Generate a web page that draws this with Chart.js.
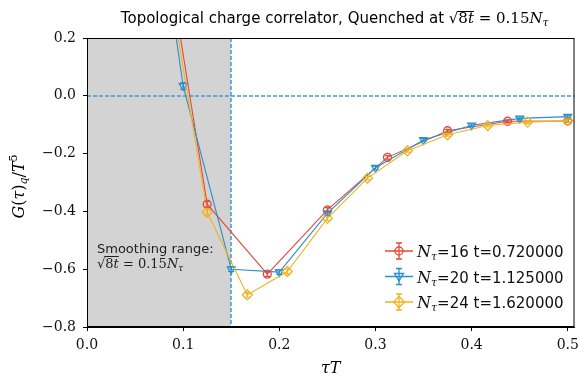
<!DOCTYPE html>
<html>
<head>
<meta charset="utf-8">
<script src="https://cdn.jsdelivr.net/npm/chart.js@4/dist/chart.umd.min.js"></script>
<style>
  html, body { margin: 0; padding: 0; background: #fff; }
  #wrap { width: 585px; height: 378px; }
</style>
</head>
<body>
<div id="wrap"><canvas id="chart" width="585" height="378"></canvas></div>
<script>
// tau*T values and correlator values
const tau16 = [0.0625, 0.125, 0.1875, 0.25, 0.3125, 0.375, 0.4375, 0.5];
const g16 = [0.92, -0.375, -0.617, -0.395, -0.213, -0.121, -0.088, -0.087];
const err16 = [0.02, 0.01, 0.008, 0.008, 0.006, 0.005, 0.005, 0.005];

const tau20 = [0.05, 0.1, 0.15, 0.2, 0.25, 0.3, 0.35, 0.4, 0.45, 0.5];
const g20 = [1.18, 0.034, -0.600, -0.610, -0.407, -0.249, -0.153, -0.102, -0.078, -0.072];
const err20 = [0.02, 0.012, 0.008, 0.008, 0.007, 0.006, 0.005, 0.005, 0.005, 0.005];

const tau24 = [0.0833, 0.125, 0.1667, 0.2083, 0.25, 0.2917, 0.3333, 0.375, 0.4167, 0.4583, 0.5];
const g24 = [0.43, -0.403, -0.689, -0.608, -0.424, -0.285, -0.19, -0.135, -0.103, -0.091, -0.086];
const err24 = [0.02, 0.01, 0.008, 0.008, 0.007, 0.006, 0.005, 0.005, 0.005, 0.005, 0.005];

const xTicks = [0.0, 0.1, 0.2, 0.3, 0.4, 0.5];
const yTicks = [0.2, 0.0, -0.2, -0.4, -0.6, -0.8];
const smoothEdge = 0.15;

const RED = "#e5483a", BLUE = "#2a8fcf", YELLOW = "#f0b323";
const SERIF = '"DejaVu Serif"', SANS = '"DejaVu Sans"';

function pts(xs, ys, es) {
  return xs.map((x, i) => ({ x: x, y: ys[i], e: es[i] }));
}

// draw a run of text pieces with their own fonts
function drawRich(ctx, parts, x, y, align) {
  let w = 0;
  parts.forEach(p => { ctx.font = p.f; p.w = ctx.measureText(p.t).width; w += p.w; });
  let cx = align === "center" ? x - w / 2 : x;
  ctx.textBaseline = "alphabetic";
  ctx.textAlign = "left";
  parts.forEach(p => {
    ctx.font = p.f;
    ctx.fillText(p.t, cx, y + (p.dy || 0));
    if (p.over) {
      ctx.fillRect(cx - 1, y - 12, p.w + 1, 1);
    }
    cx += p.w;
  });
}

function mathParts(size) {
  return [
    { t: "\u221A", f: size + "px " + SERIF },
    { t: "8", f: size + "px " + SERIF, over: true },
    { t: "t", f: "italic " + size + "px " + SERIF, over: true },
    { t: " = 0.15", f: size + "px " + SERIF },
    { t: "N", f: "italic " + size + "px " + SERIF },
    { t: "\u03C4", f: "italic " + Math.round(size * 0.7) + "px " + SERIF, dy: 3 }
  ];
}

const decor = {
  id: "decor",
  beforeDatasetsDraw(chart) {
    const { ctx, chartArea: a, scales: { x, y } } = chart;
    ctx.save();
    // smoothing range shade
    const xs = Math.round(x.getPixelForValue(smoothEdge));
    ctx.fillStyle = "#d3d3d3";
    ctx.fillRect(a.left, a.top, xs - a.left, a.bottom - a.top);
    ctx.strokeStyle = "#3a9ad9";
    ctx.lineWidth = 1.5;
    ctx.setLineDash([4, 2]);
    ctx.beginPath();
    const y0 = Math.round(y.getPixelForValue(0));
    ctx.moveTo(a.left, y0); ctx.lineTo(a.right, y0);
    ctx.moveTo(xs, a.top); ctx.lineTo(xs, a.bottom);
    ctx.stroke();
    ctx.setLineDash([]);
    // annotation
    ctx.fillStyle = "#222";
    drawRich(ctx, [{ t: "Smoothing range:", f: "13px " + SANS }], a.left + 10, 253);
    drawRich(ctx, mathParts(13), a.left + 10, 268);
    ctx.restore();
  },
  afterDatasetsDraw(chart) {
    const { ctx, chartArea: a, scales: { x, y } } = chart;
    ctx.save();
    ctx.beginPath();
    ctx.rect(a.left, a.top, a.right - a.left, a.bottom - a.top);
    ctx.clip();
    // error bars
    chart.data.datasets.forEach(ds => {
      ctx.strokeStyle = ds.borderColor;
      ctx.lineWidth = 1.2;
      ds.data.forEach(p => {
        const px = x.getPixelForValue(p.x);
        const t = y.getPixelForValue(p.y + p.e), b = y.getPixelForValue(p.y - p.e);
        ctx.beginPath();
        ctx.moveTo(px, t); ctx.lineTo(px, b);
        ctx.moveTo(px - 3, t); ctx.lineTo(px + 3, t);
        ctx.moveTo(px - 3, b); ctx.lineTo(px + 3, b);
        ctx.stroke();
      });
    });
    ctx.restore();
    ctx.save();
    // frame
    ctx.strokeStyle = "#000";
    ctx.lineWidth = 1;
    ctx.strokeRect(a.left + 0.5, a.top + 0.5, a.right - a.left - 1, a.bottom - a.top - 1);
    ctx.restore();
  },
  afterDraw(chart) {
    const { ctx, chartArea: a } = chart;
    ctx.save();
    ctx.fillStyle = "#000";
    const cx = (a.left + a.right) / 2;
    // title
    drawRich(ctx, [{ t: "Topological charge correlator, Quenched at ", f: "15px " + SANS }].concat(mathParts(15)), cx + 4, 23, "center");
    // axis titles
    drawRich(ctx, [{ t: "\u03C4T", f: "italic 16px " + SERIF }], cx, 373, "center");
    ctx.translate(24, (a.top + a.bottom) / 2 + 4);
    ctx.rotate(-Math.PI / 2);
    drawRich(ctx, [
      { t: "G", f: "italic 16px " + SERIF },
      { t: "(", f: "16px " + SERIF },
      { t: "\u03C4", f: "italic 16px " + SERIF },
      { t: ")", f: "16px " + SERIF },
      { t: "q", f: "italic 11px " + SERIF, dy: 3 },
      { t: "/", f: "16px " + SERIF },
      { t: "T", f: "italic 16px " + SERIF },
      { t: "5", f: "11px " + SERIF, dy: -7 }
    ], 0, 0, "center");
    ctx.restore();

    // legend
    ctx.save();
    const rows = [
      { c: RED, n: "16", t: "0.720000", s: "circle" },
      { c: BLUE, n: "20", t: "1.125000", s: "tri" },
      { c: YELLOW, n: "24", t: "1.620000", s: "diamond" }
    ];
    rows.forEach((r, i) => {
      const ly = 251 + i * 25.5;
      const mx = 399;
      ctx.strokeStyle = r.c;
      ctx.lineWidth = 1.3;
      ctx.beginPath();
      ctx.moveTo(385, ly); ctx.lineTo(413, ly);
      ctx.moveTo(mx, ly - 8); ctx.lineTo(mx, ly + 8);
      ctx.moveTo(mx - 3, ly - 8); ctx.lineTo(mx + 3, ly - 8);
      ctx.moveTo(mx - 3, ly + 8); ctx.lineTo(mx + 3, ly + 8);
      ctx.stroke();
      ctx.beginPath();
      if (r.s === "circle") ctx.arc(mx, ly, 4, 0, 2 * Math.PI);
      if (r.s === "tri") { ctx.moveTo(mx - 4.5, ly - 3); ctx.lineTo(mx + 4.5, ly - 3); ctx.lineTo(mx, ly + 4.5); ctx.closePath(); }
      if (r.s === "diamond") { ctx.moveTo(mx, ly - 5.5); ctx.lineTo(mx + 5.5, ly); ctx.lineTo(mx, ly + 5.5); ctx.lineTo(mx - 5.5, ly); ctx.closePath(); }
      ctx.stroke();
      ctx.fillStyle = "#111";
      drawRich(ctx, [
        { t: "N", f: "italic 16px " + SERIF },
        { t: "\u03C4", f: "italic 11px " + SERIF, dy: 3 },
        { t: "=" + r.n + " t=" + r.t, f: "15px " + SANS }
      ], 417, ly + 6);
    });
    ctx.restore();
  }
};

function series(data, color, style, radius, order) {
  return {
    data: data,
    borderColor: color,
    backgroundColor: "rgba(0,0,0,0)",
    borderWidth: 1.1,
    pointStyle: style,
    pointRadius: radius,
    pointBorderWidth: 1.3,
    pointRotation: style === "triangle" ? 180 : 0,
    showLine: true,
    tension: 0,
    order: order
  };
}

new Chart(document.getElementById("chart"), {
  type: "scatter",
  data: {
    datasets: [
      series(pts(tau16, g16, err16), RED, "circle", 4, 2),
      series(pts(tau20, g20, err20), BLUE, "triangle", 4.5, 1),
      series(pts(tau24, g24, err24), YELLOW, "rectRot", 5, 0)
    ]
  },
  plugins: [decor],
  options: {
    responsive: false,
    animation: false,
    layout: { padding: { left: 0, right: 6, top: 38, bottom: 0 } },
    plugins: { legend: { display: false }, tooltip: { enabled: false } },
    scales: {
      x: {
        type: "linear",
        min: 0,
        max: 0.507,
        afterBuildTicks: s => { s.ticks = xTicks.map(v => ({ value: v })); },
        afterFit: s => { s.height = 51; },
        grid: { drawOnChartArea: false, color: "#000", tickLength: 4 },
        border: { color: "#000" },
        ticks: {
          color: "#111",
          font: { family: "DejaVu Serif", size: 14 },
          padding: 6,
          callback: v => v.toFixed(1)
        }
      },
      y: {
        type: "linear",
        min: -0.8,
        max: 0.2,
        afterBuildTicks: s => { s.ticks = yTicks.map(v => ({ value: v })); },
        afterFit: s => { s.width = 87; },
        grid: { drawOnChartArea: false, color: "#000", tickLength: 4 },
        border: { color: "#000" },
        ticks: {
          color: "#111",
          font: { family: "DejaVu Serif", size: 14 },
          padding: 7,
          callback: v => v.toFixed(1).replace("-", "\u2212")
        }
      }
    }
  }
});
</script>
</body>
</html>
